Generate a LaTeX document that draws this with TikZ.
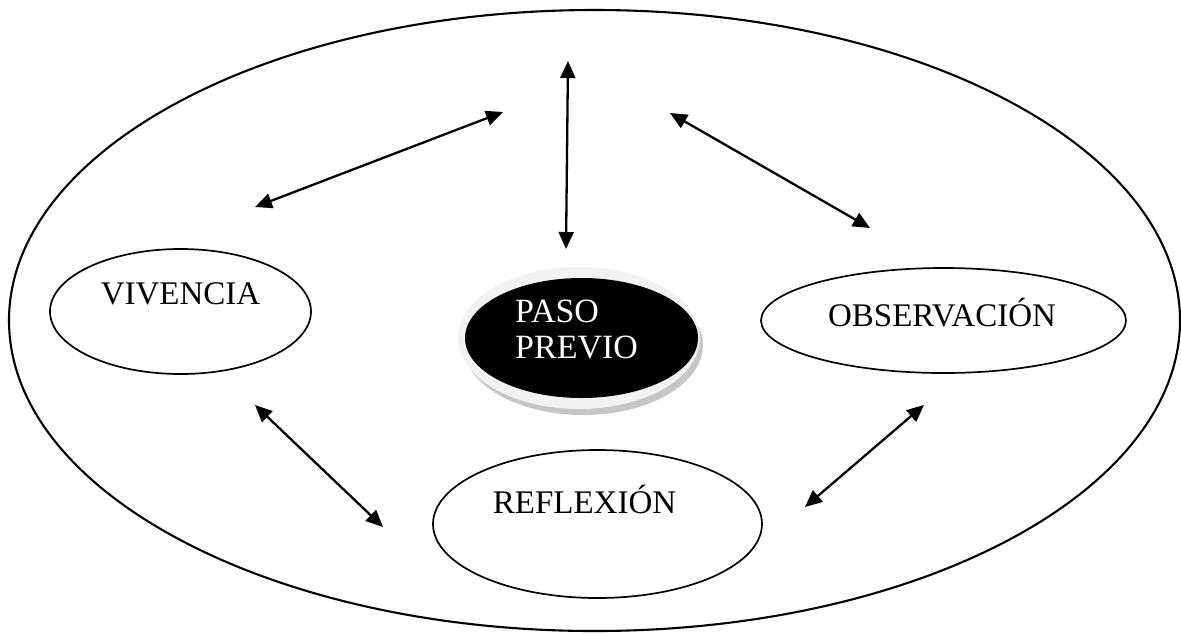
\documentclass[tikz,border=0pt]{standalone}
\usepackage{fontspec}
\setmainfont{Liberation Serif}
\usetikzlibrary{shapes.geometric,arrows.meta}
\begin{document}
\begin{tikzpicture}[x=1pt,y=-1pt,
  oval/.style={draw=black,line width=1.7pt,ellipse,inner sep=0pt},
  lbl/.style={font=\fontsize{33}{36}\selectfont,inner sep=0pt,anchor=center},
  dbl/.style={line width=2.3pt,{Triangle[length=17pt,width=15pt]}-{Triangle[length=17pt,width=15pt]}}]
\useasboundingbox (0,0) rectangle (1181,633);
\fill[white] (0,0) rectangle (1181,633);
% outer ellipse
\node[oval,line width=2.1pt,minimum width=1171pt,minimum height=621pt] (outer) at (594.5,320.5) {};
% satellite ellipses
\node[oval,minimum width=261pt,minimum height=125pt] (viv) at (180.5,311.5) {};
\node[lbl] (vivt) at (180.5,294) {VIVENCIA};
\node[oval,minimum width=365pt,minimum height=105pt] (obs) at (943.5,320.5) {};
\node[lbl] (obst) at (942,312.5) {OBSERVACIÓN};
\node[oval,minimum width=329pt,minimum height=148pt] (ref) at (597.5,524) {};
\node[lbl] (reft) at (584.5,499.5) {REFLEXIÓN};
% central node with bevel
\node[ellipse,fill=gray!45,draw=none,minimum width=240pt,minimum height=140pt] (pasoshadow) at (583,345) {};
\node[ellipse,fill=gray!10,draw=none,minimum width=242pt,minimum height=142pt] (pasoring) at (579,338) {};
\node[ellipse,fill=black,draw=none,minimum width=233pt,minimum height=120pt] (paso) at (581.5,338) {};
\node[font=\fontsize{34}{36}\selectfont,text=white,align=left,anchor=north west,inner sep=0pt] (pasot) at (515,300) {PASO\\PREVIO};
% arrow end points
\coordinate (a1s) at (255,207);
\coordinate (a1e) at (503,112);
\coordinate (a2s) at (568,61);
\coordinate (a2e) at (566,249);
\coordinate (a3s) at (670,113);
\coordinate (a3e) at (870,228);
\coordinate (a4s) at (255,405);
\coordinate (a4e) at (383,527);
\coordinate (a5s) at (805,507);
\coordinate (a5e) at (924,405);
\draw[dbl] (a1s) -- (a1e);
\draw[dbl] (a2s) -- (a2e);
\draw[dbl] (a3s) -- (a3e);
\draw[dbl] (a4s) -- (a4e);
\draw[dbl] (a5s) -- (a5e);
\end{tikzpicture}
\end{document}
